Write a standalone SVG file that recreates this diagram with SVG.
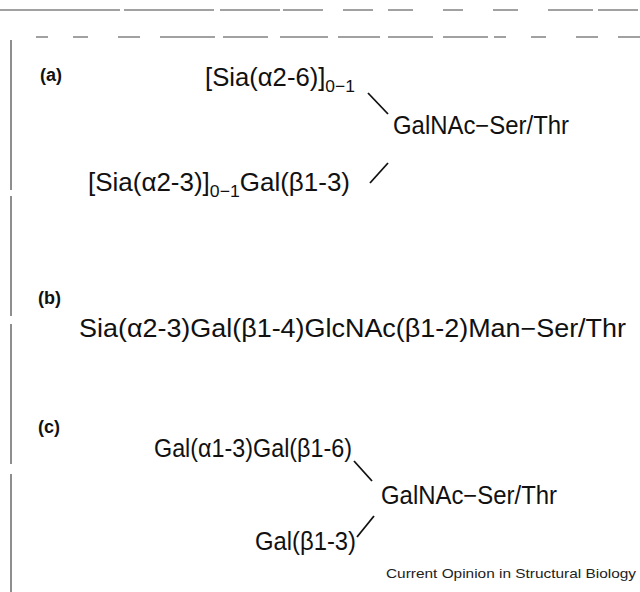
<svg xmlns="http://www.w3.org/2000/svg" width="640" height="592" viewBox="0 0 640 592">
<style>
.t{font-family:"Liberation Sans",Arial,sans-serif;font-size:25px;fill:#111}
.s{font-size:17px}
.lab{font-family:"Liberation Sans",Arial,sans-serif;font-size:18px;font-weight:bold;fill:#111}
.cr{font-family:"Liberation Sans",Arial,sans-serif;font-size:13px;fill:#222}
.c{stroke:#111;stroke-width:1.8;fill:none}
.b{stroke:#444;stroke-width:1.2;fill:none}
</style>
<rect width="640" height="592" fill="#fff"/>
<g id="border">
<line class="b" x1="0" y1="10" x2="640" y2="10" stroke-dasharray="120,4,90,6,60,3,40,20,30,15,25,30,20,30,25,30,45,5,40"/>
<line class="b" x1="36" y1="37" x2="640" y2="37" stroke-dasharray="12,25,15,30,22,20,55,8,45,12,48,10,42,8,45,10,45,6"/>
<line class="b" x1="11" y1="40" x2="11" y2="592" stroke-dasharray="150,6,120,8,140,10,130"/>
</g>
<g id="panel-a">
<text class="lab" x="40" y="81">(a)</text>
<g id="a-branch1"><text class="t" x="205" y="86" textLength="150" lengthAdjust="spacingAndGlyphs">[Sia(α2-6)]<tspan class="s" dy="6">0−1</tspan></text></g>
<g id="a-core"><text class="t" x="393" y="134" textLength="176" lengthAdjust="spacingAndGlyphs">GalNAc−Ser/Thr</text></g>
<g id="a-branch2"><text class="t" x="88" y="191" textLength="262" lengthAdjust="spacingAndGlyphs">[Sia(α2-3)]<tspan class="s" dy="6">0−1</tspan><tspan dy="-6">Gal(β1-3)</tspan></text></g>
</g>
<g id="panel-b">
<text class="lab" x="38" y="304">(b)</text>
<g id="b-chain"><text class="t" x="79" y="337" textLength="547" lengthAdjust="spacingAndGlyphs">Sia(α2-3)Gal(β1-4)GlcNAc(β1-2)Man−Ser/Thr</text></g>
</g>
<g id="panel-c">
<text class="lab" x="38" y="433">(c)</text>
<g id="c-branch1"><text class="t" x="154" y="457" textLength="198" lengthAdjust="spacingAndGlyphs">Gal(α1-3)Gal(β1-6)</text></g>
<g id="c-core"><text class="t" x="381" y="504" textLength="176" lengthAdjust="spacingAndGlyphs">GalNAc−Ser/Thr</text></g>
<g id="c-branch2"><text class="t" x="255" y="550" textLength="101" lengthAdjust="spacingAndGlyphs">Gal(β1-3)</text></g>
</g>
<g id="connectors">
<line class="c" x1="368" y1="93" x2="388" y2="114"/>
<line class="c" x1="370" y1="183" x2="388" y2="163"/>
<line class="c" x1="354" y1="461" x2="372" y2="481"/>
<line class="c" x1="357" y1="537" x2="374" y2="516"/>
</g>
<text class="cr" x="386" y="578" textLength="250" lengthAdjust="spacingAndGlyphs">Current Opinion in Structural Biology</text>
</svg>
